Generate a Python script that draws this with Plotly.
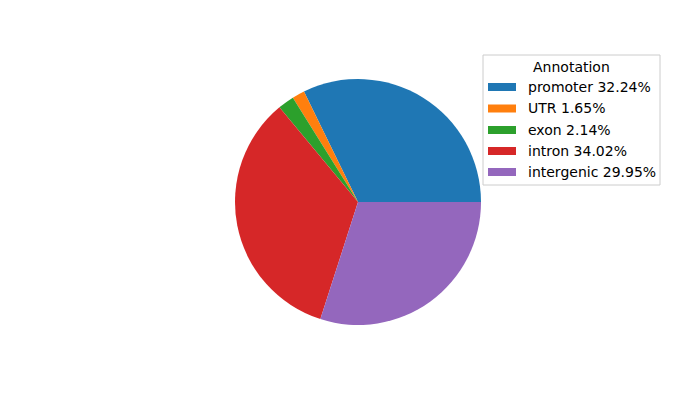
import plotly.graph_objects as go

categories = ["promoter", "UTR", "exon", "intron", "intergenic"]
values = [32.24, 1.65, 2.14, 34.02, 29.95]
colors = ["#1f77b4", "#ff7f0e", "#2ca02c", "#d62728", "#9467bd"]
legend_title = "Annotation"

W, H = 700, 400
OFF = 8  # page body margin offset

fig = go.Figure()
first_angle = 360 * values[0] / sum(values)
fig.add_trace(go.Pie(
    labels=categories,
    values=values,
    sort=False,
    direction="counterclockwise",
    rotation=90 - first_angle,
    textinfo="none",
    hoverinfo="label+percent",
    marker=dict(colors=colors, line=dict(width=0)),
    domain=dict(x=[(235 - OFF) / W, (481 - OFF) / W], y=[1 - (325 - OFF) / H, 1 - (79 - OFF) / H]),
    showlegend=False,
))

def px(x):
    return (x - OFF) / W

def py(y):
    return 1 - (y - OFF) / H

shapes = []
annotations = []
shapes.append(dict(type="rect", xref="paper", yref="paper",
                   x0=px(483), x1=px(660), y0=py(185), y1=py(55),
                   line=dict(color="#cccccc", width=1), fillcolor="rgba(255,255,255,0.8)",
                   layer="above"))
annotations.append(dict(xref="paper", yref="paper", x=px(571), y=py(67),
                        text=legend_title, showarrow=False, xanchor="center", yanchor="middle",
                        font=dict(family="DejaVu Sans", size=14, color="black")))
row_y = [87, 108.5, 130, 151, 172]
for i, (cat, v) in enumerate(zip(categories, values)):
    yc = row_y[i]
    shapes.append(dict(type="rect", xref="paper", yref="paper",
                       x0=px(488), x1=px(516), y0=py(yc + 4), y1=py(yc - 4),
                       line=dict(width=0), fillcolor=colors[i], layer="above"))
    annotations.append(dict(xref="paper", yref="paper", x=px(525.5), y=py(yc),
                            text=f"{cat} {v:.2f}%", showarrow=False,
                            xanchor="left", yanchor="middle",
                            font=dict(family="DejaVu Sans", size=14, color="black")))

fig.update_layout(
    width=W, height=H,
    margin=dict(l=0, r=0, t=0, b=0),
    paper_bgcolor="white",
    plot_bgcolor="white",
    showlegend=False,
    shapes=shapes,
    annotations=annotations,
)

fig.write_html("out.html")
